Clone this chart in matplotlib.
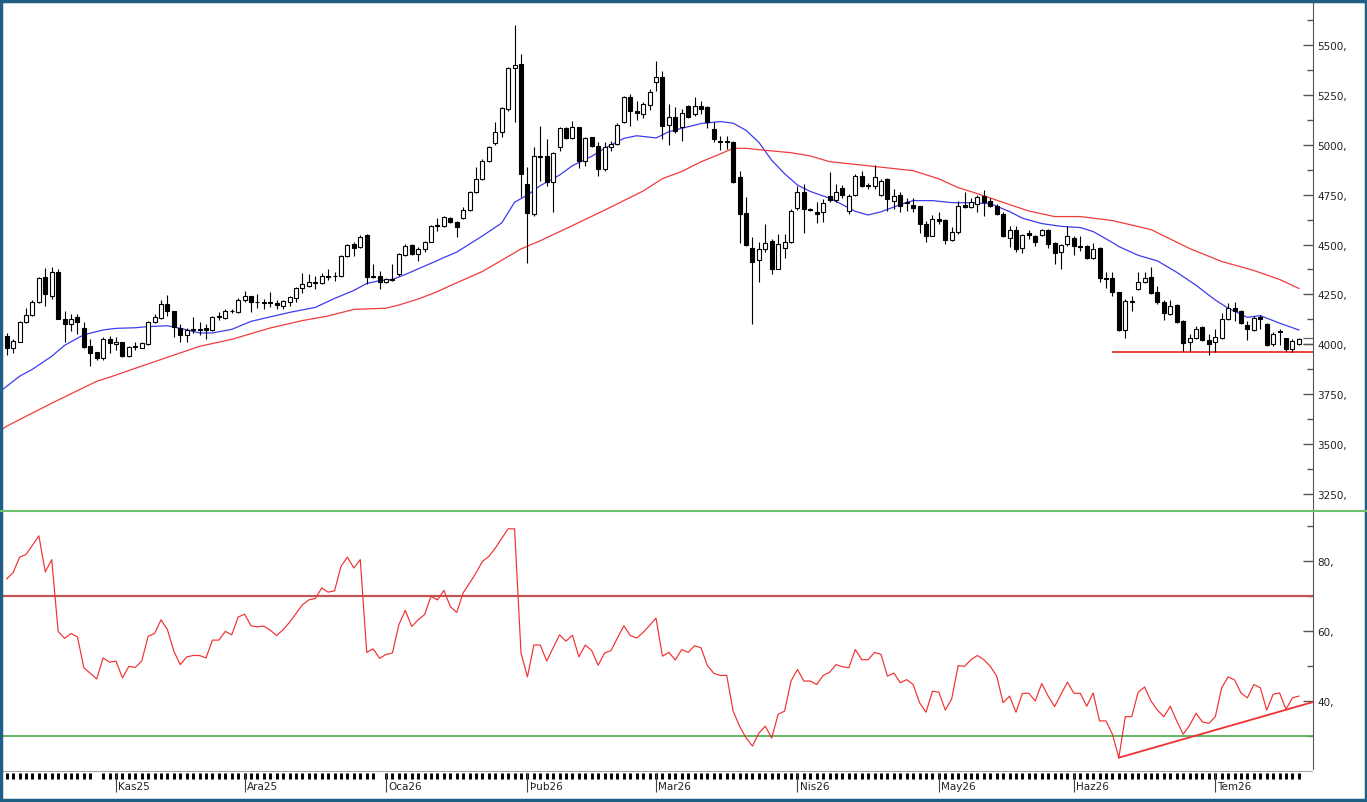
import matplotlib
matplotlib.use("Agg")
import matplotlib.pyplot as plt
from matplotlib.lines import Line2D
from matplotlib.patches import Rectangle
from matplotlib.ticker import MultipleLocator, AutoMinorLocator, FuncFormatter

# daily candles
opens = [
    4044, 3980, 4014, 4114, 4147, 4214, 4339, 4244, 4361, 4127,
    4102, 4135, 4080, 3990, 3963, 3930, 4027, 4000, 4010, 3940,
    3985, 3983, 4002, 4110, 4130, 4202, 4169, 4080, 4047, 4074,
    4077, 4080, 4074, 4135, 4130, 4169, 4160, 4224, 4241, 4214,
    4214, 4210, 4207, 4194, 4211, 4231, 4281, 4294, 4314, 4307,
    4344, 4340, 4341, 4441, 4503, 4486, 4548, 4341, 4344, 4314,
    4327, 4353, 4448, 4498, 4453, 4476, 4515, 4595, 4591, 4633,
    4611, 4633, 4673, 4762, 4828, 4920, 5007, 5062, 5179, 5384,
    5404, 4803, 4653, 4945, 4945, 4812, 4990, 5084, 5034, 5087,
    4920, 5040, 4995, 4878, 4987, 5004, 5112, 5241, 5167, 5154,
    5201, 5313, 5338, 5099, 5138, 5088, 5196, 5154, 5196, 5188,
    5079, 5021, 5021, 5012, 4837, 4658, 4481, 4420, 4478, 4520,
    4378, 4481, 4515, 4682, 4765, 4680, 4662, 4662, 4745, 4725,
    4782, 4670, 4749, 4845, 4799, 4795, 4749, 4829, 4720, 4749,
    4715, 4699, 4692, 4603, 4545, 4628, 4625, 4525, 4562, 4699,
    4687, 4704, 4742, 4720, 4695, 4653, 4532, 4575, 4481, 4560,
    4545, 4548, 4575, 4508, 4465, 4503, 4532, 4491, 4491, 4431,
    4481, 4331, 4331, 4261, 4074, 4219, 4278, 4311, 4336, 4261,
    4214, 4152, 4197, 4119, 4014, 4030, 4085, 4024, 4014, 4030,
    4127, 4181, 4169, 4097, 4074, 4135, 4102, 4002, 4065, 4030,
    3977, 4002,
]
highs = [
    4057, 4027, 4119, 4181, 4222, 4336, 4381, 4386, 4378, 4169,
    4152, 4152, 4110, 4027, 3963, 4035, 4040, 4035, 4010, 3990,
    4010, 4010, 4119, 4152, 4222, 4247, 4169, 4102, 4080, 4135,
    4110, 4102, 4140, 4160, 4177, 4177, 4231, 4269, 4241, 4252,
    4227, 4264, 4224, 4224, 4244, 4286, 4358, 4353, 4344, 4358,
    4378, 4364, 4448, 4503, 4511, 4548, 4553, 4403, 4369, 4331,
    4403, 4458, 4503, 4503, 4486, 4520, 4598, 4631, 4641, 4636,
    4620, 4690, 4770, 4887, 4929, 4995, 5112, 5191, 5388, 5602,
    5455, 4887, 4987, 5092, 5029, 4962, 5087, 5087, 5121, 5090,
    5040, 5040, 5012, 5012, 5020, 5107, 5246, 5254, 5217, 5212,
    5279, 5421, 5370, 5205, 5188, 5180, 5200, 5238, 5221, 5196,
    5113, 5046, 5046, 5021, 4866, 4737, 4537, 4515, 4603, 4528,
    4553, 4553, 4678, 4795, 4804, 4685, 4712, 4729, 4862, 4804,
    4799, 4754, 4854, 4870, 4809, 4896, 4829, 4832, 4779, 4762,
    4732, 4732, 4695, 4620, 4648, 4662, 4628, 4587, 4720, 4765,
    4732, 4749, 4775, 4732, 4704, 4662, 4595, 4595, 4553, 4575,
    4548, 4578, 4578, 4512, 4503, 4595, 4541, 4541, 4498, 4508,
    4486, 4361, 4361, 4264, 4227, 4244, 4364, 4361, 4386, 4294,
    4224, 4224, 4202, 4124, 4052, 4090, 4090, 4052, 4077, 4157,
    4207, 4211, 4174, 4119, 4144, 4147, 4107, 4060, 4077, 4030,
    4027, 4030,
]
lows = [
    3947, 3957, 4010, 4107, 4144, 4207, 4191, 4227, 4127, 4010,
    4069, 4052, 3980, 3893, 3923, 3923, 3957, 3973, 3935, 3935,
    3973, 3980, 3997, 4107, 4127, 4140, 4035, 4010, 4010, 4057,
    4047, 4027, 4069, 4124, 4127, 4157, 4157, 4211, 4164, 4180,
    4177, 4185, 4177, 4177, 4194, 4211, 4257, 4286, 4277, 4302,
    4324, 4319, 4336, 4436, 4444, 4481, 4302, 4331, 4277, 4307,
    4319, 4344, 4444, 4448, 4419, 4461, 4511, 4570, 4586, 4606,
    4540, 4628, 4670, 4757, 4823, 4912, 5000, 5040, 5171, 5112,
    4737, 4406, 4645, 4820, 4795, 4661, 4970, 5029, 5029, 4884,
    4895, 4990, 4845, 4870, 4970, 5000, 5107, 5096, 5124, 5134,
    5174, 5268, 5030, 5000, 5059, 5021, 5133, 5146, 5154, 5083,
    5012, 4976, 4979, 4809, 4508, 4495, 4102, 4314, 4465, 4353,
    4375, 4431, 4508, 4675, 4558, 4670, 4608, 4615, 4712, 4712,
    4732, 4653, 4745, 4787, 4779, 4779, 4745, 4670, 4679, 4665,
    4670, 4665, 4558, 4512, 4541, 4603, 4503, 4520, 4553, 4682,
    4682, 4662, 4642, 4687, 4648, 4537, 4486, 4465, 4458, 4530,
    4491, 4541, 4481, 4403, 4378, 4491, 4448, 4470, 4428, 4428,
    4311, 4281, 4244, 4069, 4030, 4169, 4274, 4308, 4253, 4202,
    4124, 4147, 4107, 3969, 3969, 4027, 4019, 3947, 3964, 4027,
    4124, 4119, 4102, 4024, 4069, 4077, 3994, 3994, 3997, 3969,
    3964, 3997,
]
closes = [
    3980, 4019, 4114, 4147, 4214, 4331, 4252, 4361, 4127, 4102,
    4127, 4114, 3985, 3957, 3930, 4027, 4005, 4010, 3940, 3985,
    3990, 4005, 4114, 4135, 4202, 4169, 4085, 4047, 4074, 4077,
    4074, 4074, 4135, 4140, 4169, 4165, 4224, 4244, 4214, 4211,
    4209, 4207, 4197, 4219, 4236, 4281, 4302, 4311, 4309, 4344,
    4339, 4344, 4444, 4498, 4481, 4536, 4336, 4336, 4314, 4327,
    4324, 4453, 4494, 4453, 4478, 4515, 4595, 4598, 4636, 4611,
    4586, 4673, 4762, 4828, 4920, 4987, 5062, 5184, 5384, 5401,
    4853, 4656, 4945, 4940, 4812, 4957, 5084, 5034, 5087, 4920,
    5034, 4995, 4878, 4990, 5004, 5101, 5241, 5167, 5157, 5204,
    5263, 5338, 5096, 5138, 5071, 5159, 5138, 5196, 5180, 5113,
    5029, 5016, 5016, 4815, 4653, 4498, 4411, 4478, 4508, 4378,
    4503, 4515, 4670, 4765, 4678, 4675, 4654, 4708, 4725, 4765,
    4749, 4745, 4845, 4795, 4795, 4837, 4820, 4729, 4745, 4695,
    4710, 4682, 4603, 4545, 4628, 4620, 4525, 4562, 4692, 4687,
    4715, 4737, 4715, 4695, 4653, 4541, 4575, 4478, 4548, 4550,
    4515, 4575, 4503, 4458, 4498, 4545, 4491, 4486, 4431, 4478,
    4331, 4325, 4264, 4074, 4219, 4214, 4311, 4331, 4258, 4211,
    4157, 4194, 4114, 4007, 4030, 4077, 4024, 4002, 4035, 4127,
    4181, 4169, 4107, 4077, 4130, 4127, 3997, 4052, 4060, 3977,
    4019, 4027,
]

# RSI values per bar
rsi = [
    75, 76.8, 81.2, 82, 84.6, 87.3, 77, 80.5, 60, 58,
    59.4, 58.4, 49.6, 48, 46.4, 52.4, 51.2, 51.5, 46.7, 50,
    49.7, 51.5, 58.6, 59.4, 63.3, 60.5, 54.3, 50.5, 52.7, 53.1,
    53.1, 52.4, 57.5, 57.5, 60, 59, 64.1, 64.9, 61.6, 61.3,
    61.5, 60.3, 58.8, 60.5, 62.6, 65.1, 67.6, 69, 69.4, 72.4,
    71.2, 71.6, 78.6, 81.2, 78.1, 80.5, 54, 55, 52.3, 53.4,
    53.8, 61.9, 66, 61.4, 63.3, 64.8, 70, 69, 71.7, 67.1,
    65.4, 71, 73.8, 76.7, 80, 81.4, 83.8, 86.6, 89.3, 89.3,
    53.8, 47, 56.1, 56.1, 51.5, 55.3, 59, 57.2, 58.9, 52.7,
    56.1, 54.5, 50.3, 53.8, 54.5, 58.1, 61.6, 58.8, 58.1, 59.7,
    61.7, 63.8, 52.9, 54, 51.8, 54.8, 54, 55.9, 55.3, 50.2,
    48, 47.4, 47.4, 37.2, 32.9, 29.6, 27.2, 30.9, 32.9, 29.5,
    36.3, 37.2, 45.8, 49.1, 45.8, 45.8, 44.8, 47.4, 48.3, 50.5,
    49.9, 49.6, 54.8, 51.9, 51.9, 54, 53.4, 47.2, 48.1, 45.3,
    46.2, 44.8, 39.6, 36.9, 42.9, 42.6, 37.5, 40.7, 50.2, 50,
    51.9, 53.1, 51.9, 50, 47.2, 39.6, 41.5, 36.9, 42.3, 42.3,
    40.1, 45.1, 41.5, 38.5, 42, 45.5, 42.3, 42.3, 38.6, 42.4,
    34.4, 34.4, 30.6, 23.9, 35.6, 35.6, 42.6, 44.1, 40.1, 37.5,
    35.6, 38.6, 34.4, 30.6, 33.1, 36.6, 34.1, 33.7, 35.6, 43.9,
    47, 46.1, 42.4, 41, 44.8, 43.9, 37.5, 42, 42.4, 37.7,
    41, 41.5,
]

# moving averages, (bar, value)
ma_fast = [
    (-1, 3765), (0, 3790), (2, 3840), (4, 3875), (7, 3940), (9, 3995),
    (12, 4048), (15, 4072), (17, 4080), (20, 4083), (22, 4089), (25, 4093),
    (27, 4080), (30, 4057), (32, 4057), (35, 4075), (38, 4115), (44, 4160),
    (48, 4185), (51, 4230), (54, 4270), (56, 4305), (58, 4319), (60, 4325),
    (62, 4350), (64, 4378), (67, 4420), (68, 4435), (69, 4448), (70, 4462),
    (74, 4543), (77, 4608), (78, 4660), (79, 4712), (81, 4748), (83, 4795),
    (86, 4848), (88, 4895), (91, 4942), (93, 4982), (96, 5032), (98, 5045),
    (101, 5034), (103, 5065), (105, 5082), (108, 5106), (111, 5116),
    (113, 5108), (115, 5072), (117, 5012), (119, 4922), (121, 4855),
    (123, 4798), (125, 4766), (128, 4732), (130, 4700), (132, 4666),
    (134, 4648), (136, 4664), (139, 4700), (141, 4720), (144, 4720),
    (147, 4710), (150, 4709), (153, 4705), (156, 4665), (158, 4632),
    (161, 4605), (164, 4591), (167, 4585), (169, 4565), (172, 4510),
    (173, 4490), (176, 4446), (179, 4418), (182, 4361), (185, 4296),
    (188, 4222), (190, 4181), (193, 4135), (195, 4144), (198, 4106),
    (201, 4072),
]
ma_slow = [
    (-1, 3568), (0, 3590), (7, 3705), (14, 3815), (16, 3835), (20, 3880),
    (25, 3935), (30, 3990), (35, 4025), (41, 4082), (46, 4119), (50, 4142),
    (54, 4175), (59, 4181), (61, 4197), (64, 4227), (67, 4264), (69, 4294),
    (74, 4365), (78, 4440), (80, 4478), (83, 4519), (88, 4595), (93, 4672),
    (99, 4768), (102, 4830), (105, 4866), (108, 4914), (111, 4954),
    (113, 4982), (115, 4982), (118, 4972), (122, 4960), (125, 4944),
    (128, 4915), (133, 4898), (137, 4884), (141, 4870), (145, 4829),
    (148, 4785), (151, 4755), (156, 4700), (159, 4668), (163, 4640),
    (167, 4640), (172, 4620), (178, 4575), (184, 4480), (189, 4415),
    (194, 4370), (198, 4325), (201, 4280),
]

support_level = 3962
support_start = 172
rsi_trend_x = [173, 203.2]
rsi_trend_y = [23.9, 39.8]
last_marks = [4031, 4002]

month_labels = ["Kas25", "Ara25", "Oca26", "Þub26", "Mar26",
                "Nis26", "May26", "Haz26", "Tem26"]
month_bars = [17, 37, 59, 81, 101, 123, 145, 166, 188]
no_tick_bars = [14, 58]

n = len(closes)
bars = list(range(n))
X0, X1 = -0.58, 203.2

W, H = 1367, 803


def box(x0, y0, x1, y1):
    # pixel box -> figure fraction
    return [x0 / W, 1 - y1 / H, (x1 - x0) / W, (y1 - y0) / H]


fig = plt.figure(figsize=(W / 100, H / 100), dpi=100)
fig.patch.set_facecolor("white")

ax = fig.add_axes(box(3, 3, 1313, 512))
ax_rsi = fig.add_axes(box(3, 512, 1313, 770), sharex=ax)
ax_d = fig.add_axes(box(3, 770, 1313, 800), sharex=ax)

# candles
ax.vlines(bars, lows, highs, color="black", lw=0.8, zorder=2)
bottoms = [min(o, c) for o, c in zip(opens, closes)]
heights = [abs(c - o) for o, c in zip(opens, closes)]
faces = ["white" if c >= o else "black" for o, c in zip(opens, closes)]
ax.bar(bars, heights, bottom=bottoms, width=0.62, color=faces,
       edgecolor="black", linewidth=0.8, zorder=3)

fx, fy = zip(*ma_fast)
sx, sy = zip(*ma_slow)
ax.plot(fx, fy, color="#3c3cf0", lw=0.9, zorder=1)
ax.plot(sx, sy, color="#f03c3c", lw=0.9, zorder=1)
ax.hlines(support_level, support_start, X1, color="#f03030", lw=1.3, zorder=1)
ax.hlines(last_marks, n - 0.4, X1, color="#666666", lw=0.9, zorder=1)

ax.set_xlim(X0, X1)
ax.set_ylim(3165, 5715)
ax.yaxis.set_major_locator(MultipleLocator(250))

# RSI panel
ax_rsi.plot(bars, rsi, color="#f03030", lw=0.85, zorder=3)
ax_rsi.axhline(70, color="#c05555", lw=1.6, zorder=2)
ax_rsi.axhline(30, color="#55b055", lw=1.3, zorder=2)
ax_rsi.plot(rsi_trend_x, rsi_trend_y, color="#f03030", lw=1.3, zorder=3)
ax_rsi.set_ylim(20.66, 94.4)
ax_rsi.yaxis.set_major_locator(MultipleLocator(20))

fmt = FuncFormatter(lambda v, p: f"{v:.0f},")
for a in (ax, ax_rsi):
    for s in ("left", "top", "bottom"):
        a.spines[s].set_visible(False)
    a.spines["right"].set_color("#555555")
    a.yaxis.tick_right()
    a.yaxis.set_minor_locator(AutoMinorLocator(2))
    a.yaxis.set_major_formatter(fmt)
    a.tick_params(axis="y", which="major", direction="in", length=7,
                  width=1, color="#555555", labelsize=7.5,
                  labelcolor="#222222", pad=3)
    a.tick_params(axis="y", which="minor", direction="in", length=4,
                  width=1, color="#555555")
    a.tick_params(axis="x", which="both", bottom=False, labelbottom=False)

# date band
ax_d.set_axis_off()
ax_d.set_ylim(0, 1)
ax_d.axhline(0.93, color="#aaaaaa", lw=0.8)
tick_bars = [b for b in bars if b not in no_tick_bars]
ax_d.vlines(tick_bars, 0.68, 0.88, color="black", lw=2.1)
ax_d.vlines(month_bars, 0.23, 0.88, color="#444444", lw=0.8)
for b, lab in zip(month_bars, month_labels):
    ax_d.text(b + 0.35, 0.43, lab, fontsize=7.5, va="center", ha="left",
              color="#222222")

# divider and frame
fig.add_artist(Line2D([0, 1], [1 - 512 / H] * 2, transform=fig.transFigure,
                      color="#6cc06c", lw=1.5))
fig.add_artist(Rectangle((0.001, 0.002), 0.998, 0.996,
                         transform=fig.transFigure, fill=False,
                         edgecolor="#1f5f86", lw=2.5))

fig.savefig("out.png", dpi=100)
